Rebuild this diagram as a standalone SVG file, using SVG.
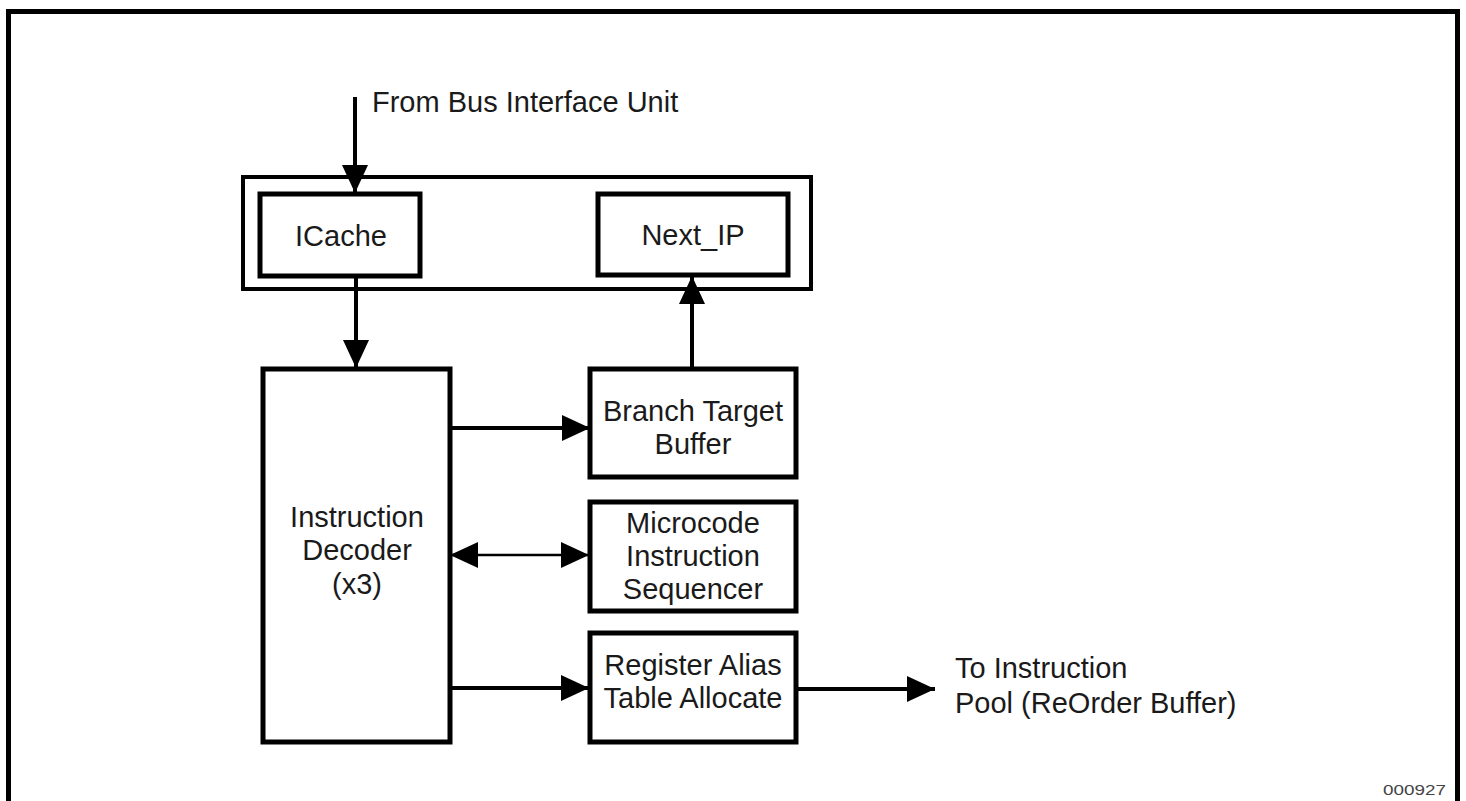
<svg xmlns="http://www.w3.org/2000/svg" width="1466" height="801" viewBox="0 0 1466 801">
<defs>
<style>
.box{fill:#fff;stroke:#000;stroke-width:5}
.cont{fill:none;stroke:#000;stroke-width:4}
.lbl{font-family:"Liberation Sans",Arial,sans-serif;font-size:29px;fill:#1a1a1a;text-anchor:middle}
.note{font-family:"Liberation Sans",Arial,sans-serif;font-size:29px;fill:#1a1a1a}
.conn{fill:none;stroke:#000;stroke-width:4}
.thin{fill:none;stroke:#000;stroke-width:2.5}
</style>
<marker id="ah" markerWidth="28" markerHeight="26" refX="28" refY="13" orient="auto" markerUnits="userSpaceOnUse">
<path d="M0,0 L28,13 L0,26 Z" fill="#000"/>
</marker>
<marker id="ahs" markerWidth="28" markerHeight="26" refX="0" refY="13" orient="auto" markerUnits="userSpaceOnUse">
<path d="M28,0 L0,13 L28,26 Z" fill="#000"/>
</marker>
</defs>
<rect width="1466" height="801" fill="#fff"/>
<rect id="frame" x="8.5" y="11.5" width="1449" height="800" fill="none" stroke="#000" stroke-width="5"/>

<g id="fetch-unit">
<rect class="cont" x="243" y="177" width="568" height="112"/>
</g>
<g id="icache">
<rect class="box" x="260" y="194" width="160" height="82"/>
<text class="lbl" x="341" y="246">ICache</text>
</g>
<g id="next-ip">
<rect class="box" x="598" y="194" width="190" height="81"/>
<text class="lbl" x="693" y="245">Next_IP</text>
</g>
<g id="decoder">
<rect class="box" x="263" y="369" width="187" height="373" stroke-width="4.5"/>
<text class="lbl" x="357" y="527">Instruction</text>
<text class="lbl" x="357" y="560">Decoder</text>
<text class="lbl" x="357" y="594">(x3)</text>
</g>
<g id="btb">
<rect class="box" x="590" y="369" width="206" height="108"/>
<text class="lbl" x="693" y="421">Branch Target</text>
<text class="lbl" x="693" y="454">Buffer</text>
</g>
<g id="msq">
<rect class="box" x="590" y="502" width="206" height="109"/>
<text class="lbl" x="693" y="533">Microcode</text>
<text class="lbl" x="693" y="566">Instruction</text>
<text class="lbl" x="693" y="599">Sequencer</text>
</g>
<g id="rat">
<rect class="box" x="590" y="633" width="206" height="109"/>
<text class="lbl" x="693" y="675">Register Alias</text>
<text class="lbl" x="693" y="708">Table Allocate</text>
</g>
<g id="labels">
<text class="note" x="372" y="112">From Bus Interface Unit</text>
<text class="note" x="955" y="678">To Instruction</text>
<text class="note" x="955" y="713">Pool (ReOrder Buffer)</text>
<text x="1383" y="795" font-family="Liberation Sans,Arial,sans-serif" font-size="14" fill="#444" textLength="63" lengthAdjust="spacingAndGlyphs">000927</text>
</g>
<g id="connectors">
<line class="conn" x1="355" y1="97" x2="355" y2="193" marker-end="url(#ah)"/>
<line class="conn" x1="356" y1="276" x2="356" y2="368" marker-end="url(#ah)"/>
<line class="conn" x1="692" y1="369" x2="692" y2="276" marker-end="url(#ah)"/>
<line class="conn" x1="450" y1="428" x2="590" y2="428" marker-end="url(#ah)"/>
<line class="thin" x1="450" y1="555" x2="589" y2="555" marker-start="url(#ahs)" marker-end="url(#ah)"/>
<line class="conn" x1="450" y1="688" x2="589" y2="688" marker-end="url(#ah)"/>
<line class="conn" x1="796" y1="689" x2="935" y2="689" marker-end="url(#ah)"/>
</g>
</svg>
